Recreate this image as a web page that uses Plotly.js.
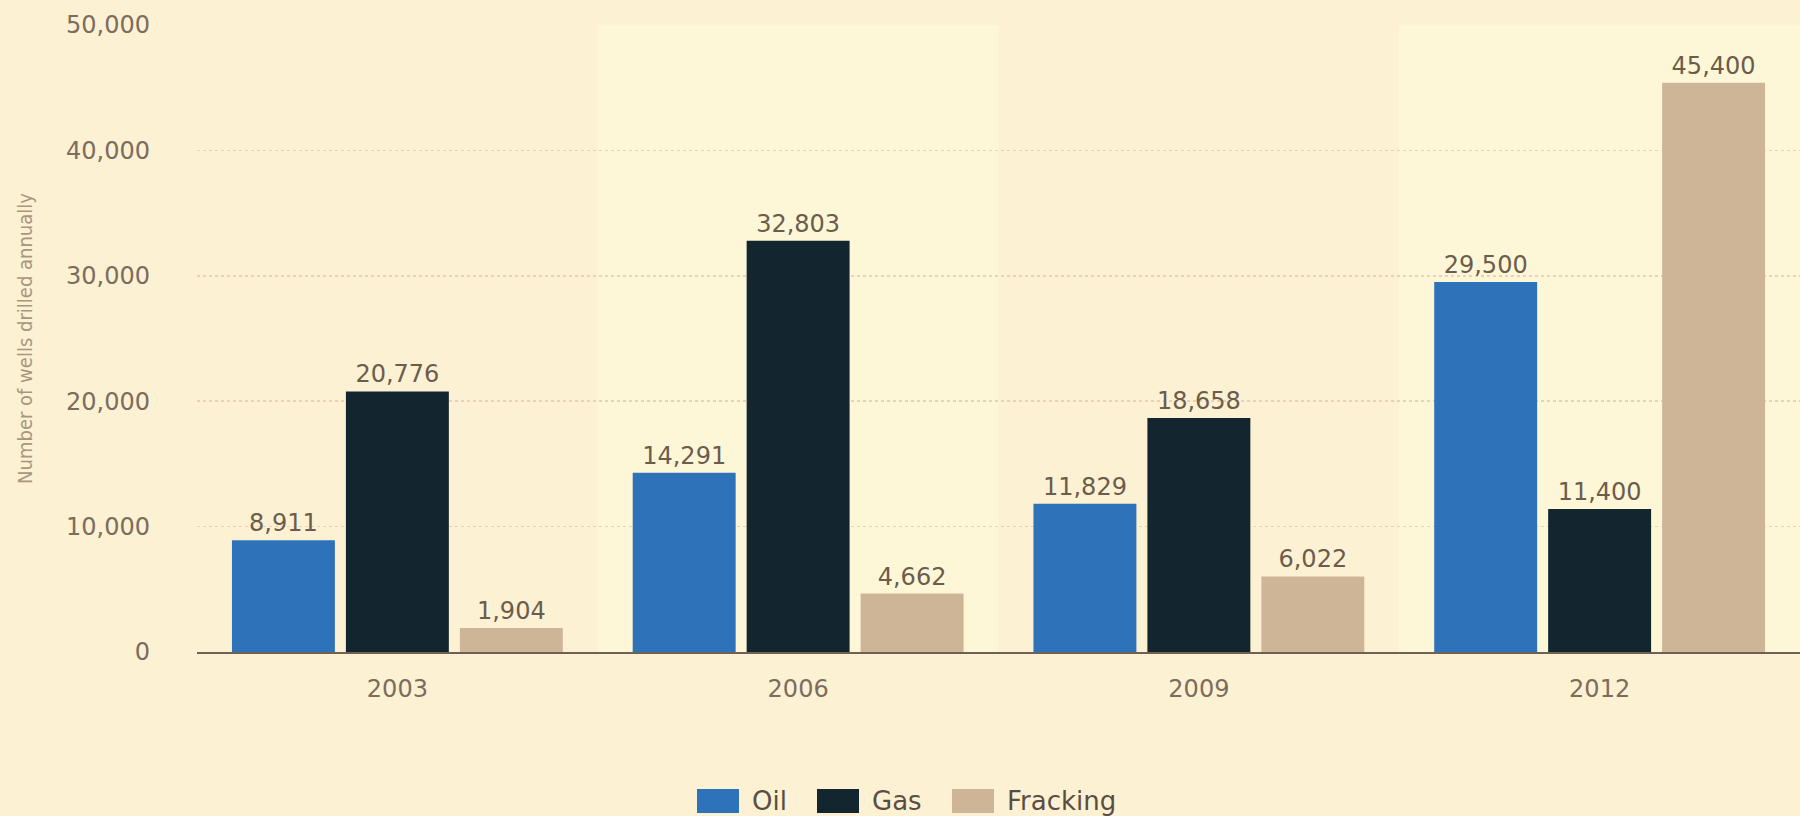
<!DOCTYPE html>
<html>
<head>
<meta charset="utf-8">
<script src="https://cdn.plot.ly/plotly-3.0.1.min.js"></script>
<style>
  html, body { margin: 0; padding: 0; background: #FDF1D3; }
  #chart { width: 1800px; height: 816px; }
</style>
</head>
<body>
<div id="chart"></div>
<script>
// ---- data ----
const years = ["2003", "2006", "2009", "2012"];
const oil = [8911, 14291, 11829, 29500];
const gas = [20776, 32803, 18658, 11400];
const fracking = [1904, 4662, 6022, 45400];
const seriesNames = ["Oil", "Gas", "Fracking"];
const yTickVals = [0, 10000, 20000, 30000, 40000, 50000];

// ---- styles ----
const colors = ["#2E73BA", "#132630", "#CFB598"];
const paperBg = "#FDF1D3";
const bandBg = "#FEF7D7";
const labelColor = "#6B5C4C";
const tickColor = "#7B6D5D";
const mainFont = "DejaVu Sans, Verdana, sans-serif";

const series = [oil, gas, fracking];
const traces = series.map((vals, i) => ({
  type: "bar",
  name: seriesNames[i],
  x: years,
  y: vals,
  marker: { color: colors[i], line: { width: 0 } },
  text: vals.map(v => v.toLocaleString("en-US")),
  textposition: "outside",
  cliponaxis: false,
  textfont: { family: mainFont, size: 24, color: labelColor },
  hoverinfo: "x+y+name",
  showlegend: false
}));

// alternating category bands
const shapes = [];
years.forEach((y, i) => {
  if (i % 2 === 1) {
    shapes.push({
      type: "rect", xref: "x", yref: "paper",
      x0: i - 0.5, x1: i + 0.5, y0: 0, y1: 1,
      fillcolor: bandBg, line: { width: 0 }, layer: "below"
    });
  }
});

// custom legend (pixel layout converted to paper coords)
const plotL = 197, plotW = 1603, plotB = 652, plotH = 627;
const px2x = p => (p - plotL) / plotW;
const py2y = p => (plotB - p) / plotH;
const legendSwatchX = [697, 817, 952];
const swW = 42, swTop = 789, swBot = 813;
const annotations = [];
seriesNames.forEach((n, i) => {
  shapes.push({
    type: "rect", xref: "paper", yref: "paper",
    x0: px2x(legendSwatchX[i]), x1: px2x(legendSwatchX[i] + swW),
    y0: py2y(swBot), y1: py2y(swTop),
    fillcolor: colors[i], line: { width: 0 }
  });
  annotations.push({
    xref: "paper", yref: "paper",
    x: px2x(legendSwatchX[i] + swW + 11), y: py2y((swTop + swBot) / 2),
    xanchor: "left", yanchor: "middle",
    text: n, showarrow: false,
    font: { family: mainFont, size: 26, color: "#5A4E44" }
  });
});

const layout = {
  width: 1800, height: 816,
  paper_bgcolor: paperBg,
  plot_bgcolor: "rgba(0,0,0,0)",
  margin: { l: plotL, r: 0, t: 25, b: 164 },
  barmode: "group",
  bargap: 0.147,
  bargroupgap: 0.0965,
  showlegend: false,
  xaxis: {
    type: "category",
    showline: true, linecolor: "#6E6052", linewidth: 2,
    showgrid: false, zeroline: false,
    ticks: "",
    ticklabelstandoff: 14,
    tickfont: { family: mainFont, size: 24, color: tickColor },
    fixedrange: true
  },
  yaxis: {
    range: [0, 50000],
    tickvals: yTickVals,
    tickformat: ",d",
    showline: false, zeroline: false,
    showgrid: true, gridcolor: "#EFCDBB", gridwidth: 1.5, griddash: "dot",
    ticks: "",
    ticklabelstandoff: 46,
    tickfont: { family: mainFont, size: 24, color: tickColor },
    title: {
      text: "Number of wells drilled annually",
      font: { family: "DejaVu Sans Condensed, sans-serif", size: 20, color: "#A8977F" },
      standoff: 28
    },
    fixedrange: true
  },
  shapes: shapes,
  annotations: annotations
};

Plotly.newPlot("chart", traces, layout, { displayModeBar: false, staticPlot: true });
</script>
</body>
</html>
